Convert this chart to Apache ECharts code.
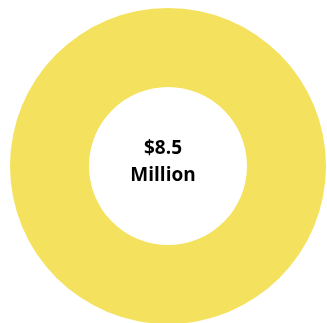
<!DOCTYPE html>
<html>
<head>
<meta charset="utf-8">
<script src="https://cdn.jsdelivr.net/npm/echarts@6/dist/echarts.min.js"></script>
<style>
  html, body { margin: 0; padding: 0; background: #fff; }
  #chart { width: 327px; height: 323px; }
</style>
</head>
<body>
<div id="chart"></div>
<script>
// Single-slice donut with total in the middle
var sliceNames = ['Total'];
var sliceValues = [8.5];
var centerLines = ['$8.5', 'Million'];

var chart = echarts.init(document.getElementById('chart'));

chart.setOption({
  animation: false,
  color: ['#F4E15D'],
  series: [
    {
      type: 'pie',
      center: [168, 166],
      radius: [79, 158],
      silent: true,
      label: { show: false },
      labelLine: { show: false },
      data: sliceNames.map(function (name, i) {
        return { name: name, value: sliceValues[i] };
      })
    }
  ],
  graphic: [
    {
      type: 'text',
      x: 163,
      y: 162,
      style: {
        text: centerLines.join('\n'),
        fontFamily: 'Open Sans',
        fontWeight: 'bold',
        fontSize: 19,
        lineHeight: 27,
        fill: '#000',
        align: 'center',
        verticalAlign: 'middle'
      }
    }
  ]
});
</script>
</body>
</html>
